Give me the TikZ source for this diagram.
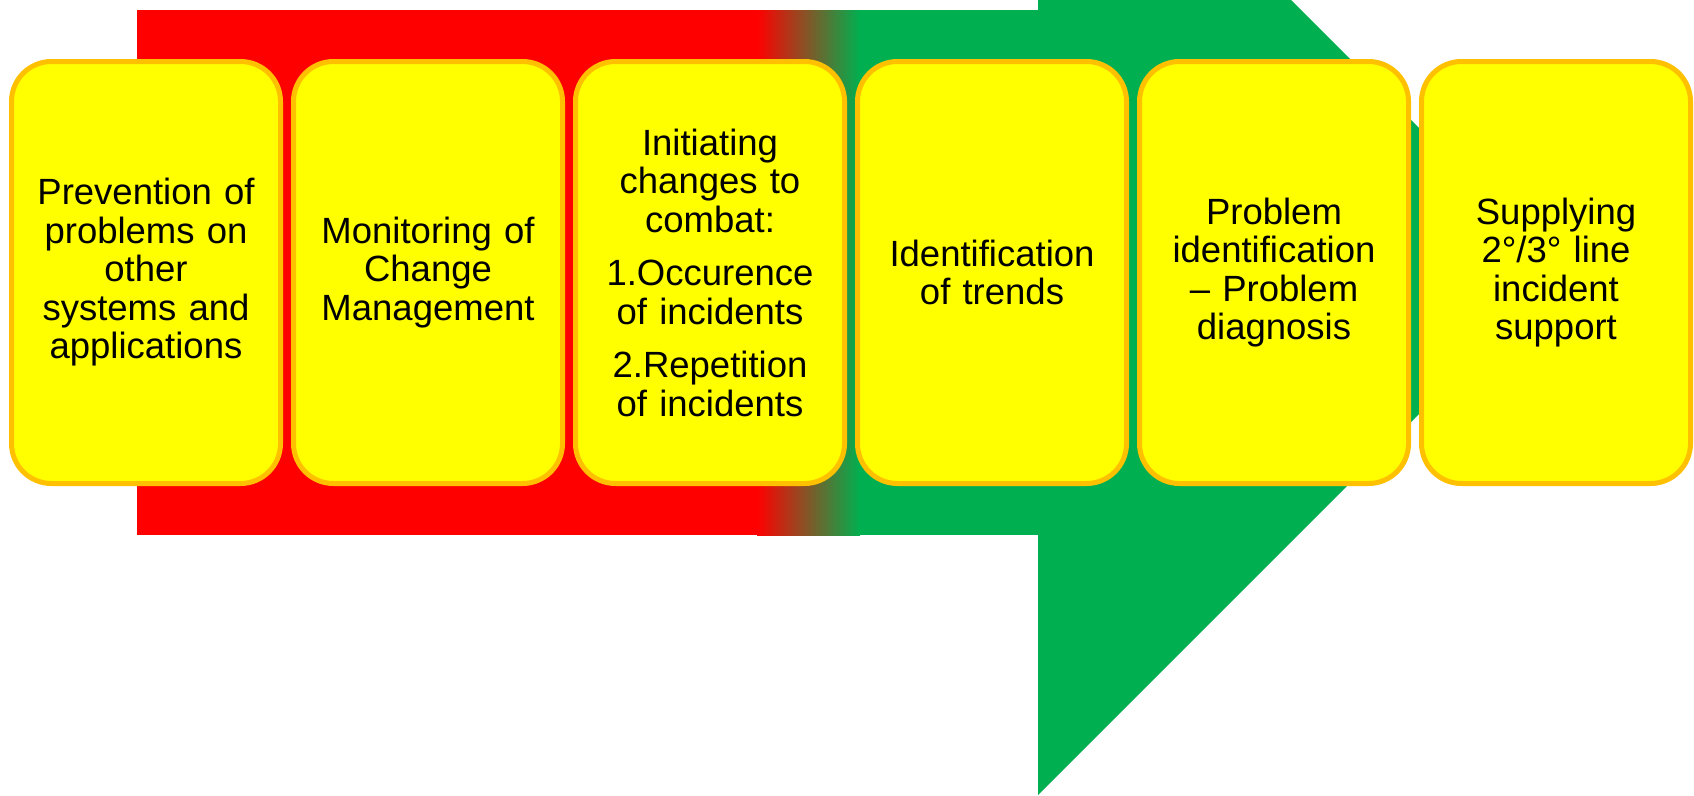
\documentclass[tikz,border=0pt]{standalone}
\usepackage{fontspec}
\setmainfont{Liberation Sans}
\definecolor{arrred}{HTML}{FF0000}
\definecolor{arrgreen}{HTML}{00B050}
\definecolor{boxfill}{HTML}{FFFF00}
\definecolor{boxline}{HTML}{FFC000}
\begin{document}
\begin{tikzpicture}[x=1pt,y=-1pt,
  stagebox/.style={draw=boxline, fill=boxfill, line width=5pt, rounded corners=40pt,
    minimum width=269pt, minimum height=422pt, text width=255pt, align=center,
    inner sep=0pt, font=\fontsize{36.5}{38.5}\selectfont}]
\useasboundingbox (0,0) rectangle (1694,795);
\clip (0,0) rectangle (1694,795);
% arrow body
\fill[arrred] (137,10) rectangle (758,535);
\shade[left color=arrred, right color=arrgreen, draw=none] (757,10) rectangle (860,535);
\fill[arrgreen] (859,10) rectangle (1040,535);
% arrow head
\fill[arrgreen] (1038,-253) -- (1562,271) -- (1038,795) -- cycle;
% boxes
\node[stagebox] (b1) at (146,272.5) {Prevention of\\problems on\\other\\systems and\\applications};
\node[stagebox] (b2) at (428,272.5) {Monitoring of\\Change\\Management};
\node[stagebox] (b3) at (710,272.5) {Initiating\\changes to\\combat:\\[15pt]1.Occurence\\of incidents\\[15pt]2.Repetition\\of incidents};
\node[stagebox] (b4) at (992,272.5) {Identification\\of trends};
\node[stagebox] (b5) at (1274,272.5) {Problem\\identification\\– Problem\\diagnosis};
\node[stagebox] (b6) at (1556,272.5) {Supplying\\2°/3° line\\incident\\support};
\end{tikzpicture}
\end{document}
